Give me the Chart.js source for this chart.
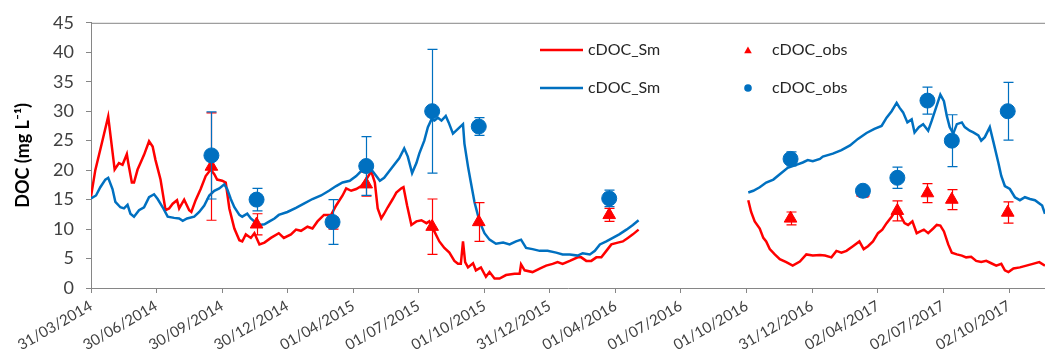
<!DOCTYPE html>
<html>
<head>
<meta charset="utf-8">
<script src="https://cdn.jsdelivr.net/npm/chart.js@4.4.1/dist/chart.umd.min.js"></script>
<style>
html, body { margin: 0; padding: 0; background: #fff; overflow: hidden; }
#wrap { width: 1045px; height: 358px; position: relative; }
canvas { display: block; }
</style>
</head>
<body>
<div id="wrap"><canvas id="chart"></canvas></div>
<script>
// days counted from 31/03/2014
var startDate = "31/03/2014";
var tickLabels = ["31/03/2014","30/06/2014","30/09/2014","30/12/2014","01/04/2015","01/07/2015","01/10/2015",
  "31/12/2015","01/04/2016","01/07/2016","01/10/2016","31/12/2016","02/04/2017","02/07/2017","02/10/2017"];
var yTicks = [0,5,10,15,20,25,30,35,40,45];

var redDays = [0,6,14,24,33,39,44,50,52,57,60,65,69,74,81,86,90,97,104,109,114,120,123,130,137,140,146,153,160,167,172,176,183,188,193,200,207,211,216,223,228,235,242,251,262,269,279,286,293,302,309,316,325,335,342,351,356,363,370,377,384,391,396,400,405,409,414,421,426,433,436,441,447,454,461,468,472,479,486,493,500,507,512,516,519,522,526,533,537,544,551,556,563,570,579,591,598,600,605,616,626,635,644,651,658,668,679,684,691,698,705,712,719,726,735,742,749,756,764,
  840,
  917,921,926,933,938,942,947,954,961,970,979,989,998,1007,1017,1024,1033,1040,1047,1054,1063,1072,1078,1084,1091,1098,1104,1110,1117,1123,1128,1135,1140,1146,1152,1157,1162,1168,1175,1180,1185,1190,1196,1201,1208,1215,1221,1228,1235,1242,1249,1256,1263,1270,1275,1280,1287,1296,1305,1314,1323,1331];
var redSim = [15.5,20.0,24.0,29.1,20.1,21.2,20.9,22.7,21.2,17.9,17.9,20.1,21.2,22.6,24.9,24.0,21.7,18.4,13.2,13.5,14.3,14.9,13.5,15.0,13.2,12.9,14.9,16.8,19.0,20.1,19.3,18.4,18.2,17.9,13.5,10.1,8.1,7.9,9.1,8.5,9.3,7.4,7.7,8.5,9.3,8.5,9.1,9.9,9.7,10.4,10.1,11.3,12.4,12.4,14.0,15.7,16.9,16.5,16.8,17.3,18.4,19.8,17.9,13.5,11.8,12.6,13.7,15.1,16.2,16.9,17.1,14.0,10.7,11.3,11.5,11.0,11.3,9.6,7.9,6.8,6.0,4.6,4.1,4.1,7.9,4.4,3.5,4.2,3.0,3.5,1.9,2.7,1.6,1.6,2.2,2.4,2.4,4.0,3.0,2.7,3.3,3.8,4.1,4.4,4.1,4.6,5.2,5.2,4.6,4.6,5.2,5.2,6.3,7.4,7.7,7.9,8.5,9.1,9.9,
  null,
  14.9,12.9,11.3,10.1,8.5,7.9,6.6,5.7,4.9,4.4,3.8,4.5,5.7,5.5,5.6,5.5,5.2,6.3,6.0,6.3,7.1,7.9,6.6,7.1,7.9,9.3,9.9,11.0,12.1,13.2,12.6,11.0,10.7,11.3,9.3,9.6,9.9,9.3,10.1,10.7,10.6,9.6,7.4,6.0,5.7,5.5,5.2,5.3,4.6,4.4,4.6,4.2,3.8,4.1,3.0,2.7,3.3,3.5,3.8,4.1,4.4,3.8];

var blueDays = [0,7,13,20,24,30,34,41,46,51,55,60,67,74,81,88,93,100,107,116,123,128,134,144,151,158,165,172,179,186,190,195,200,207,211,218,223,228,235,242,249,256,262,274,286,297,309,321,332,342,351,361,370,379,386,393,398,403,409,416,423,430,437,442,448,454,458,465,470,475,479,484,489,495,499,505,512,519,521,526,530,535,542,549,556,565,575,584,593,600,607,616,626,637,649,658,668,679,686,696,703,710,719,728,737,747,756,764,
  840,
  917,924,933,942,952,961,972,984,993,1000,1007,1017,1021,1035,1047,1059,1070,1082,1093,1103,1110,1117,1124,1128,1133,1139,1145,1149,1155,1161,1168,1173,1179,1185,1190,1194,1198,1203,1208,1215,1219,1226,1231,1238,1242,1247,1254,1259,1266,1270,1275,1282,1289,1296,1303,1310,1317,1327,1331];
var blueSim = [15.2,15.7,17.1,18.4,18.7,16.8,14.6,13.7,13.5,14.1,12.6,12.1,13.2,13.7,15.4,15.9,15.1,13.7,12.1,11.9,11.8,11.4,11.8,12.1,12.9,14.0,15.7,16.5,16.9,17.6,16.8,15.1,13.7,12.4,12.1,12.6,11.8,11.3,10.7,10.8,11.3,11.8,12.4,12.9,13.6,14.3,15.1,15.7,16.5,17.3,17.9,18.2,19.0,20.1,20.7,19.8,19.0,18.2,18.7,19.8,20.9,22.0,23.7,22.3,19.5,21.2,22.8,25.0,27.3,28.6,28.4,28.9,28.4,29.2,28.1,26.2,27.0,27.8,24.5,20.6,17.9,14.6,11.3,9.3,8.2,7.5,7.7,7.4,7.9,8.2,6.8,6.6,6.3,6.3,6.0,5.7,5.7,5.5,5.9,5.7,6.3,7.4,7.9,8.5,9.1,9.9,10.7,11.5,
  null,
  16.2,16.5,17.1,17.9,18.4,19.3,20.4,20.9,21.3,21.7,21.5,21.9,22.3,22.8,23.4,24.2,25.3,26.3,27.0,27.5,28.9,30.0,31.4,30.6,29.8,28.1,28.6,26.4,27.3,27.8,26.7,28.4,30.6,32.8,31.7,29.2,27.3,26.2,27.8,28.1,27.3,26.7,26.4,25.9,25.0,25.6,27.3,24.8,21.2,19.0,17.3,16.8,15.4,14.9,15.4,15.1,14.9,14.0,12.6];

var obsDays = [168,231,337,384,476,541,723,976,1077,1125,1167,1201,1279];
var redObs  = [20.6,10.8,11.0,17.6,10.4,11.2,12.4,11.8,16.2,13.1,16.1,15.0,12.8];
var redErr  = [9.1,1.8,1.0,2.0,4.7,3.3,1.1,1.1,0.8,1.7,1.6,1.7,1.8];
var blueObs = [22.5,15.0,11.2,20.7,30.0,27.4,15.2,21.9,16.5,18.7,31.8,25.0,30.0];
var blueErr = [7.4,1.9,3.8,5.0,10.5,1.5,1.4,1.2,0.5,1.8,2.3,4.4,4.9];

function dayOf(s) {
  var p = s.split("/"), q = startDate.split("/");
  return Math.round((Date.UTC(+p[2], +p[1]-1, +p[0]) - Date.UTC(+q[2], +q[1]-1, +q[0])) / 86400000);
}
var tickDays = tickLabels.map(dayOf);

function pts(xs, ys) { return xs.map(function(d, i) { return {x: d, y: ys[i]}; }); }

var RED = '#FF0000', BLUE = '#0070C0', AXIS = '#868686';

Chart.defaults.font.family = 'Lato, "Open Sans", sans-serif';
Chart.defaults.color = '#404040';

// error bars drawn just before their own markers
var errorBars = {
  id: 'errorBars',
  beforeDatasetDraw: function(chart, args) {
    var ds = chart.data.datasets[args.index];
    if (!ds.errorBars) return;
    var ctx = chart.ctx, xs = chart.scales.x, ys = chart.scales.y;
    ctx.save();
    ctx.strokeStyle = ds.borderColor;
    ctx.lineWidth = 1.2;
    ds.data.forEach(function(p, i) {
      var e = ds.errorBars[i];
      var px = Math.round(xs.getPixelForValue(p.x)) + 0.5;
      var top = ys.getPixelForValue(p.y + e), bot = ys.getPixelForValue(p.y - e);
      ctx.beginPath();
      ctx.moveTo(px, top); ctx.lineTo(px, bot);
      ctx.moveTo(px - 5, top); ctx.lineTo(px + 5, top);
      ctx.moveTo(px - 5, bot); ctx.lineTo(px + 5, bot);
      ctx.stroke();
    });
    ctx.restore();
  }
};

var frameAndLegend = {
  id: 'frameAndLegend',
  afterDraw: function(chart) {
    var ctx = chart.ctx, a = chart.chartArea;
    ctx.save();
    ctx.strokeStyle = AXIS;
    ctx.lineWidth = 1;
    ctx.beginPath();
    ctx.moveTo(a.left, a.top + 0.5); ctx.lineTo(a.right, a.top + 0.5);
    ctx.stroke();

    ctx.font = '16px Lato, "Open Sans", sans-serif';
    ctx.textBaseline = 'middle';
    ctx.fillStyle = '#262626';
    ctx.lineWidth = 2.5;
    [[RED, 50], [BLUE, 88]].forEach(function(r) {
      ctx.strokeStyle = r[0];
      ctx.beginPath(); ctx.moveTo(540, r[1]); ctx.lineTo(583, r[1]); ctx.stroke();
      ctx.fillText('cDOC_Sm', 588, r[1]);
    });
    ctx.fillStyle = RED;
    ctx.beginPath(); ctx.moveTo(748, 46.5); ctx.lineTo(751.8, 53.3); ctx.lineTo(744.2, 53.3); ctx.closePath(); ctx.fill();
    ctx.fillStyle = BLUE;
    ctx.beginPath(); ctx.arc(748, 88, 3.8, 0, Math.PI * 2); ctx.fill();
    ctx.fillStyle = '#262626';
    ctx.fillText('cDOC_obs', 772, 50);
    ctx.fillText('cDOC_obs', 772, 88);
    ctx.restore();
  }
};

new Chart(document.getElementById('chart'), {
  type: 'line',
  data: {
    datasets: [{
      label: 'cDOC_Sm',
      data: pts(redDays, redSim),
      borderColor: RED,
      borderWidth: 2.5,
      pointRadius: 0,
      spanGaps: false,
      tension: 0,
      order: 4
    }, {
      label: 'cDOC_Sm',
      data: pts(blueDays, blueSim),
      borderColor: BLUE,
      borderWidth: 2.5,
      pointRadius: 0,
      spanGaps: false,
      tension: 0,
      order: 3
    }, {
      label: 'cDOC_obs',
      data: pts(obsDays, redObs),
      errorBars: redErr,
      showLine: false,
      borderColor: RED,
      backgroundColor: RED,
      pointStyle: 'triangle',
      pointRadius: 7.3,
      pointBorderWidth: 1,
      order: 2
    }, {
      label: 'cDOC_obs',
      data: pts(obsDays, blueObs),
      errorBars: blueErr,
      showLine: false,
      borderColor: BLUE,
      backgroundColor: BLUE,
      pointStyle: 'circle',
      pointRadius: 7.5,
      pointBorderWidth: 1,
      order: 1
    }]
  },
  options: {
    responsive: true,
    maintainAspectRatio: false,
    animation: false,
    devicePixelRatio: 1,
    layout: { autoPadding: false, padding: { top: 17, right: 0, bottom: 0, left: 0 } },
    plugins: {
      legend: { display: false },
      tooltip: { enabled: false }
    },
    scales: {
      x: {
        type: 'linear',
        min: 0,
        max: 1331,
        afterBuildTicks: function(scale) {
          scale.ticks = tickDays.map(function(v) { return {value: v}; });
        },
        afterFit: function(scale) {
          scale.height = 70;
          scale.paddingLeft = 0;
          scale.paddingRight = 0;
        },
        ticks: {
          autoSkip: false,
          minRotation: 30,
          maxRotation: 30,
          padding: 4,
          font: { size: 15 },
          color: '#404040',
          callback: function(v, i) { return tickLabels[i]; }
        },
        grid: { drawOnChartArea: false, tickLength: 5, color: AXIS },
        border: { color: AXIS }
      },
      y: {
        min: 0,
        max: 45,
        afterBuildTicks: function(scale) {
          scale.ticks = yTicks.map(function(v) { return {value: v}; });
        },
        afterFit: function(scale) { scale.width = 91; },
        ticks: { font: { size: 18 }, padding: 12, color: '#404040' },
        grid: { drawOnChartArea: false, tickLength: 5, color: AXIS },
        border: { color: AXIS },
        title: {
          display: true,
          text: 'DOC (mg L\u207B\u00B9)',
          color: '#000',
          font: { size: 18, weight: 'bold' },
          padding: { top: 12, bottom: 0 }
        }
      }
    }
  },
  plugins: [errorBars, frameAndLegend]
});
</script>
</body>
</html>
